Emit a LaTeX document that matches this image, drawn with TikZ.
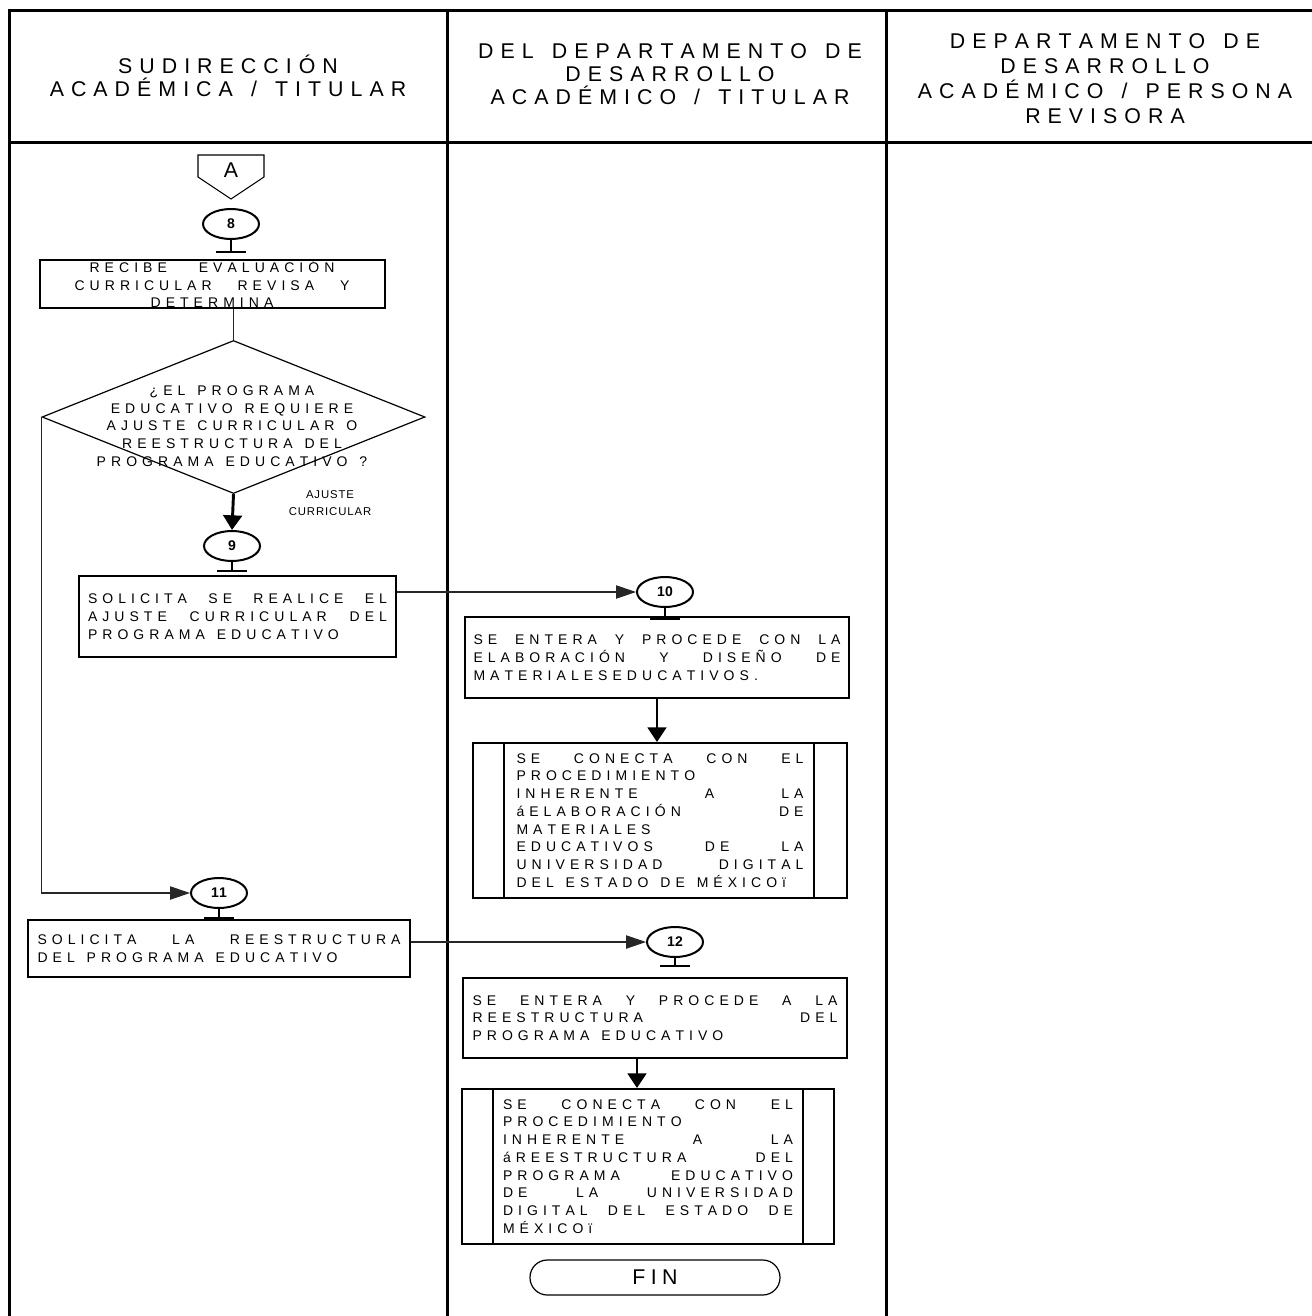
\documentclass[tikz,border=0pt]{standalone}
\usepackage{fontspec}
\setmainfont{Liberation Sans}
\newfontfamily\trackfont{Liberation Sans}
\usetikzlibrary{shapes.geometric,arrows.meta,calc}
% letter tracking through inter-character tokens
\newcount\lscnt
\lscnt=`A \loop \XeTeXcharclass\lscnt=1 \ifnum\lscnt<`Z \advance\lscnt by 1 \repeat
\lscnt=`0 \loop \XeTeXcharclass\lscnt=1 \ifnum\lscnt<`9 \advance\lscnt by 1 \repeat
\XeTeXcharclass`Á=1 \XeTeXcharclass`É=1 \XeTeXcharclass`Í=1 \XeTeXcharclass`Ó=1
\XeTeXcharclass`Ú=1 \XeTeXcharclass`Ñ=1 \XeTeXcharclass`á=1 \XeTeXcharclass`ï=1
\XeTeXcharclass`¿=1 \XeTeXcharclass`?=1 \XeTeXcharclass`.=1 \XeTeXcharclass`/=1
\def\lsamount{0pt}
\XeTeXinterchartoks 1 1 = {\kern\lsamount\relax}
\XeTeXinterchartokenstate=1
% fonts for headers, box texts and small labels
\newcommand\hd{\trackfont\fontsize{16}{17}\selectfont\def\lsamount{0.33em}}
\newcommand\hdl{\trackfont\fontsize{16}{18.75}\selectfont\def\lsamount{0.33em}}
\newcommand\bx{\trackfont\fontsize{10.5}{13.3}\selectfont\def\lsamount{0.36em}}
\newcommand\sm{\trackfont\fontsize{8.5}{12.5}\selectfont\def\lsamount{0.08em}}
% one justified line of the given width
\newcommand\jline[2]{\makebox[#1][s]{#2}}
\begin{document}
\begin{tikzpicture}[x=0.75pt,y=-0.75pt,
  lane/.style={line width=2.25pt},
  wide space/.style={execute at begin node={\spaceskip=0.85em plus 0.8em minus 0.15em\xspaceskip=\spaceskip\relax}},
  box/.style={draw, line width=1.5pt, rectangle, inner sep=0pt, align=left, wide space},
  conn/.style={draw, ellipse, line width=1.5pt, minimum width=42pt, minimum height=22.5pt, inner sep=0pt, font=\bfseries\fontsize{10.5}{12}\selectfont},
  thinline/.style={line width=0.9pt, draw=black!85},
  thinarr/.style={thinline, -{Triangle[length=15pt,width=10pt]}},
  thickarr/.style={line width=2.2pt, -{Triangle[length=11pt,width=14pt]}},
  stem/.style={line width=1.5pt},
]
\useasboundingbox (0,0) rectangle (1312,1316);
\fill[white] (0,0) rectangle (1312,1316);

% swimlane frame
\draw[lane] (9,1316) -- (9,11) -- (1312,11);
\draw[lane] (9,143) -- (1312,143);
\draw[lane] (447,11) -- (447,1316);
\draw[lane] (886,11) -- (886,1316);

% lane headers
\node[align=center, font=\hd, wide space] (h1) at (228,76) {SUDIRECCIÓN\\ACADÉMICA / TITULAR};
\node[align=center, font=\hd, wide space] (h2) at (670,74) {DEL DEPARTAMENTO DE\\DESARROLLO\\ACADÉMICO / TITULAR};
\node[align=center, font=\hdl, wide space] (h3) at (1105,79) {DEPARTAMENTO DE\\DESARROLLO\\ACADÉMICO / PERSONA\\REVISORA};

% off-page connector A
\draw[line width=0.8pt] (198,155) -- (264,155) -- (264,177) -- (231,199) -- (198,177) -- cycle;
\node[font=\fontsize{16}{17}\selectfont] (offA) at (231,170) {A};

% lane 1
\node[conn] (c8) at (231,224) {8};
\draw[stem] (c8.south) -- ++(0,12) ++(-15,0) -- ++(30,0);

\node[box, align=center, minimum width=258.75pt, minimum height=36pt, text width=258.75pt, font=\bx] (rb) at (212,284)
  {RECIBE EVALUACIÓN\\CURRICULAR REVISA Y\\DETERMINA};

\node[draw, diamond, line width=0.9pt, minimum width=287.25pt, minimum height=114.75pt, inner sep=0pt] (dia) at (233.5,417) {};
\node[align=center, font=\bx, inner sep=0pt, wide space] (diat) at (232,426)
  {¿EL PROGRAMA\\EDUCATIVO REQUIERE\\AJUSTE CURRICULAR O\\REESTRUCTURA DEL\\PROGRAMA EDUCATIVO ?};
\draw[thinline] (dia.north |- rb.south) -- (dia.north);

\node[align=center, font=\sm, inner sep=0pt] (lbl) at (330,503) {AJUSTE\\CURRICULAR};

\node[conn] (c9) at (232,546) {9};
\draw[thickarr] (dia.south) -- (c9.north);
\draw[stem] (c9.south) -- ++(0,9) ++(-15,0) -- ++(30,0);

\node[box, minimum width=237.75pt, minimum height=60.75pt, text width=224.25pt, inner xsep=6.75pt, font=\bx] (sol1) at (237.5,616.5)
  {\jline{224.25pt}{SOLICITA SE REALICE EL}\\\jline{224.25pt}{AJUSTE CURRICULAR DEL}\\PROGRAMA EDUCATIVO};

\node[conn] (c11) at (219,893) {11};
\draw[thinarr] (dia.west) -- (dia.west |- c11) -- (c11.west);
\draw[stem] (c11.south) -- ++(0,9) ++(-15,0) -- ++(30,0);

\node[box, minimum width=286.5pt, minimum height=42.75pt, text width=272.25pt, inner xsep=7.1pt, font=\bx] (sol2) at (219,948.5)
  {\jline{272.25pt}{SOLICITA LA REESTRUCTURA}\\DEL PROGRAMA EDUCATIVO};

% lane 2
\node[conn] (c10) at (665,592) {10};
\draw[thinarr] (sol1.east |- c10) -- (c10.west);
\draw[stem] (c10.south) -- ++(0,11) ++(-15,0) -- ++(30,0);

\node[box, minimum width=288pt, minimum height=60.75pt, text width=275.25pt, inner xsep=6.4pt, font=\bx] (ent1) at (657,657.5)
  {\jline{275.25pt}{SE ENTERA Y PROCEDE CON LA}\\\jline{275.25pt}{ELABORACIÓN Y DISEÑO DE}\\MATERIALESEDUCATIVOS.};

\node[box, minimum width=280.5pt, minimum height=116.25pt, text width=215.25pt, font=\bx] (pre1) at (660,820.5)
  {\jline{215.25pt}{SE CONECTA CON EL}\\PROCEDIMIENTO\\\jline{215.25pt}{INHERENTE A LA}\\\jline{215.25pt}{áELABORACIÓN DE}\\MATERIALES\\\jline{215.25pt}{EDUCATIVOS DE LA}\\\jline{215.25pt}{UNIVERSIDAD DIGITAL}\\DEL ESTADO DE MÉXICOï};
\draw[stem] ([xshift=24pt]pre1.north west) -- ([xshift=24pt]pre1.south west);
\draw[stem] ([xshift=-25.5pt]pre1.north east) -- ([xshift=-25.5pt]pre1.south east);
\draw[thickarr] (ent1.south) -- (ent1.south |- pre1.north);

\node[conn] (c12) at (675,942) {12};
\draw[thinarr] (sol2.east |- c12) -- (c12.west);
\draw[stem] (c12.south) -- ++(0,8) ++(-15,0) -- ++(30,0);

\node[box, minimum width=288pt, minimum height=60pt, text width=273.75pt, inner xsep=7.1pt, font=\bx] (ent2) at (655,1018)
  {\jline{273.75pt}{SE ENTERA Y PROCEDE A LA}\\\jline{273.75pt}{REESTRUCTURA DEL}\\PROGRAMA EDUCATIVO};

\node[box, minimum width=279pt, minimum height=116.25pt, text width=217.5pt, font=\bx] (pre2) at (648,1166.5)
  {\jline{217.5pt}{SE CONECTA CON EL}\\PROCEDIMIENTO\\\jline{217.5pt}{INHERENTE A LA}\\\jline{217.5pt}{áREESTRUCTURA DEL}\\\jline{217.5pt}{PROGRAMA EDUCATIVO}\\\jline{217.5pt}{DE LA UNIVERSIDAD}\\\jline{217.5pt}{DIGITAL DEL ESTADO DE}\\MÉXICOï};
\draw[stem] ([xshift=24pt]pre2.north west) -- ([xshift=24pt]pre2.south west);
\draw[stem] ([xshift=-24pt]pre2.north east) -- ([xshift=-24pt]pre2.south east);
\draw[thickarr] ([xshift=-13.5pt]ent2.south) -- ([xshift=-13.5pt]ent2.south |- pre2.north);

\node[draw, line width=0.9pt, rounded corners=13pt, minimum width=187.5pt, minimum height=26.25pt, inner sep=0pt,
  font=\trackfont\fontsize{16}{17}\selectfont\def\lsamount{0.25em}] (fin) at (655,1277.5) {FIN};
\end{tikzpicture}
\end{document}
